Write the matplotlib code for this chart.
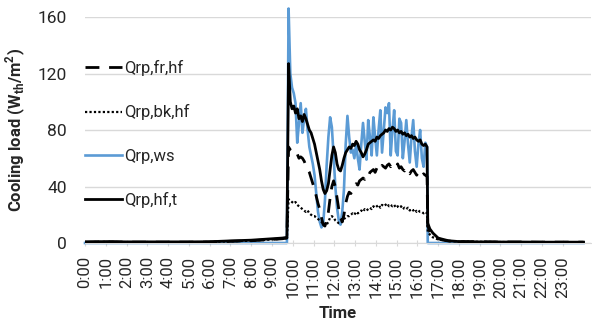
import numpy as np
import matplotlib
matplotlib.use("Agg")
import matplotlib.pyplot as plt

plt.rcParams['font.family'] = ['Roboto', 'DejaVu Sans']

# time (hours) -- sparse before/after, 5 min steps while the room is in use
pre_hours = [0, 1, 2, 3, 4, 5, 6, 7, 8, 9, 9.5, 9.72]
day_hours = 9.8 + np.arange(81) / 12.0
post_hours = [16.5, 16.6, 16.75, 17.0, 17.25, 17.5, 18, 19, 20, 21, 22, 23, 24]

# Qrp,ws (blue)
ws_pre = [0, 0, 0, 0, 0, 0, 0, 0, 0, 0, 0, 0]
ws_day = [166, 120, 110, 106, 99, 71, 85, 99, 78, 88, 95, 80, 68, 62, 56, 48,
          35, 22, 15, 11, 14, 30, 55, 75, 89, 82, 62, 40, 25, 16, 13, 22,
          38, 70, 90, 75, 64, 66, 60, 70, 60, 52, 70, 85, 72, 59, 87, 75,
          62, 89, 75, 62, 80, 94, 64, 80, 96, 92, 99, 62, 80, 94, 65, 62,
          88, 85, 60, 72, 87, 70, 57, 75, 87, 65, 54, 70, 80, 60, 54, 71, 68]
ws_post = [0, 0, 0, 0, 0, 0, 0, 0, 0, 0, 0, 0, 0]

# Qrp,hf,t (black solid)
hft_pre = [0.8, 1, 0.8, 0.8, 0.8, 0.8, 0.9, 1.5, 2, 3, 3.5, 4]
hft_day = [127, 100, 95, 97, 92, 95, 88, 90, 86, 91, 88, 84, 80, 78, 74, 70,
           64, 58, 52, 44, 38, 35, 37, 42, 52, 62, 68, 64, 56, 52, 51, 55,
           60, 64, 66, 68, 67, 70, 69, 72, 70, 66, 64, 61, 63, 66, 70, 71,
           72, 73, 72, 75, 74, 76, 77, 78, 80, 79, 81, 80, 82, 81, 79, 80,
           78, 79, 77, 78, 76, 77, 75, 76, 74, 75, 73, 72, 73, 70, 69, 70, 68]
hft_post = [14, 10, 7, 3.5, 2.5, 1.6, 1, 0.8, 0.7, 0.7, 0.6, 0.6, 0.6]

# Qrp,fr,hf (dashed)
fr_pre = [0.6, 0.8, 0.6, 0.6, 0.6, 0.6, 0.7, 1.2, 1.6, 2.5, 3, 3.5]
fr_day = [68, 66, 65, 64, 62, 63, 60, 61, 60, 58, 55, 52, 50, 46, 42, 38,
          33, 28, 24, 18, 13, 12, 16, 22, 32, 40, 44, 40, 32, 24, 18, 15,
          20, 28, 33, 36, 35, 38, 40, 42, 41, 44, 45, 46, 45, 48, 47, 50,
          51, 52, 50, 53, 54, 52, 55, 54, 53, 55, 56, 54, 56, 55, 54, 56,
          53, 54, 52, 51, 53, 50, 49, 51, 52, 50, 48, 50, 49, 47, 49, 48, 47]
fr_post = [12, 8, 5, 3, 2, 1.4, 1, 0.8, 0.7, 0.7, 0.6, 0.6, 0.6]

# Qrp,bk,hf (dotted)
bk_pre = [0.6, 0.8, 0.6, 0.6, 0.6, 0.6, 0.7, 1.2, 1.6, 2.5, 3, 3.5]
bk_day = [31, 30, 29, 28, 29, 27, 26, 25, 24, 23, 22, 23, 21, 20, 19, 19,
          18, 17, 16, 15, 13, 12, 13, 15, 18, 19, 18, 16, 15, 14, 14, 15,
          17, 18, 19, 19, 20, 21, 20, 22, 21, 22, 23, 22, 24, 23, 24, 25,
          24, 26, 25, 26, 27, 25, 27, 26, 27, 28, 26, 27, 26, 27, 25, 26,
          25, 26, 24, 25, 24, 25, 23, 24, 23, 24, 22, 23, 22, 22, 21, 22, 21]
bk_post = [8, 6, 4, 2.5, 2, 1.4, 1, 0.8, 0.7, 0.6, 0.6, 0.6, 0.6]

hour_labels = ['%d:00' % h for h in range(24)]

t = np.concatenate([pre_hours, day_hours, post_hours])
ws = np.concatenate([ws_pre, ws_day, ws_post])
hft = np.concatenate([hft_pre, hft_day, hft_post])
fr = np.concatenate([fr_pre, fr_day, fr_post])
bk = np.concatenate([bk_pre, bk_day, bk_post])

fig = plt.figure(figsize=(5.92, 3.29), dpi=100)
ax = fig.add_axes([0.1436, 0.2614, 0.8544, 0.6869])

# blue peak pokes out above the 160 line in the original, so no clipping
l_ws, = ax.plot(t, ws, color='#5b9bd5', lw=1.9, zorder=2, clip_on=False)
l_bk, = ax.plot(t, bk, color='black', lw=1.6, ls=(0, (1, 1)), zorder=3)
l_fr, = ax.plot(t, fr, color='black', lw=2.0, ls=(0, (5, 3.5)), zorder=3)
l_hft, = ax.plot(t, hft, color='black', lw=2.0, zorder=4)

ax.set_ylim(0, 160)
ax.set_yticks([0, 40, 80, 120, 160])
ax.set_xlim(0, 24.35)
ax.set_xticks(range(24))
ax.set_xticklabels(hour_labels, rotation=90)
ax.grid(axis='y', color='#d9d9d9', lw=1)
ax.set_axisbelow(True)

for s in ['top', 'right', 'left']:
    ax.spines[s].set_visible(False)
ax.spines['bottom'].set_color('#d9d9d9')
ax.tick_params(axis='y', length=0, pad=13, labelsize=12.5, colors='#262626')
ax.tick_params(axis='x', direction='inout', length=5, color='#d9d9d9',
               pad=7, labelsize=12, labelcolor='#262626')

ax.set_ylabel('Cooling load (W$_{\\mathregular{th}}$/m$^{\\mathregular{2}}$)',
              fontsize=12, fontweight='bold', color='#262626')
ax.yaxis.set_label_coords(-0.112, 0.5)
ax.set_xlabel('Time', fontsize=12, fontweight='bold', color='#262626', labelpad=6)

ax.legend([l_fr, l_bk, l_ws, l_hft], ['Qrp,fr,hf', 'Qrp,bk,hf', 'Qrp,ws', 'Qrp,hf,t'],
          loc='center left', bbox_to_anchor=(0.0, 0.482), frameon=False,
          fontsize=12, labelspacing=1.7, handlelength=2.2, handletextpad=0.15,
          borderpad=0, borderaxespad=0, labelcolor='#262626')

fig.savefig('out.png', dpi=100)
